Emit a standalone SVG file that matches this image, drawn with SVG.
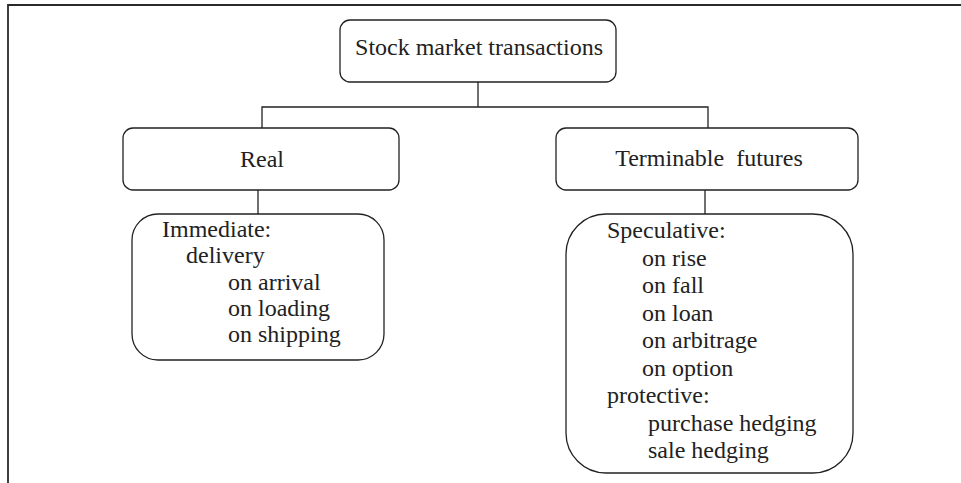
<svg xmlns="http://www.w3.org/2000/svg" width="961" height="483" viewBox="0 0 961 483">
  <style>
    .box { fill: #ffffff; stroke: #222222; stroke-width: 1.3; }
    .wire { fill: none; stroke: #222222; stroke-width: 1.3; }
    .frame { fill: none; stroke: #2a2a2a; stroke-width: 1.8; }
    text { font-family: "Liberation Serif", "Times New Roman", serif; font-size: 24px; fill: #222222; white-space: pre; }
    .mid { text-anchor: middle; }
  </style>
  <rect width="961" height="483" fill="#ffffff"/>

  <!-- open frame: top and left edges -->
  <path class="frame" d="M8,483 V5 H961"/>

  <!-- connectors -->
  <g id="connectors">
    <path class="wire" d="M478,82 V107"/>
    <path class="wire" d="M262,128 V107 H708 V128"/>
    <path class="wire" d="M258,190 V214"/>
    <path class="wire" d="M705,190 V214"/>
  </g>

  <g id="root">
    <rect class="box" x="340" y="20" width="276" height="62" rx="10"/>
    <text class="mid" x="479" y="55">Stock market transactions</text>
  </g>

  <g id="real">
    <rect class="box" x="123" y="128" width="276" height="62" rx="10"/>
    <text class="mid" x="262" y="167">Real</text>
  </g>

  <g id="futures">
    <rect class="box" x="556" y="128" width="302" height="62" rx="10"/>
    <text class="mid" x="709" y="166">Terminable  futures</text>
  </g>

  <g id="immediate">
    <rect class="box" x="132" y="214" width="252" height="146" rx="26"/>
    <text x="162" y="237">Immediate:</text>
    <text x="186" y="263">delivery</text>
    <text x="228" y="290">on arrival</text>
    <text x="228" y="316">on loading</text>
    <text x="228" y="342">on shipping</text>
  </g>

  <g id="speculative">
    <rect class="box" x="566" y="214" width="287" height="259" rx="40"/>
    <text x="607" y="238">Speculative:</text>
    <text x="642" y="266">on rise</text>
    <text x="642" y="293">on fall</text>
    <text x="642" y="321">on loan</text>
    <text x="642" y="348">on arbitrage</text>
    <text x="642" y="376">on option</text>
    <text x="607" y="403">protective:</text>
    <text x="648" y="431">purchase hedging</text>
    <text x="648" y="458">sale hedging</text>
  </g>
</svg>
